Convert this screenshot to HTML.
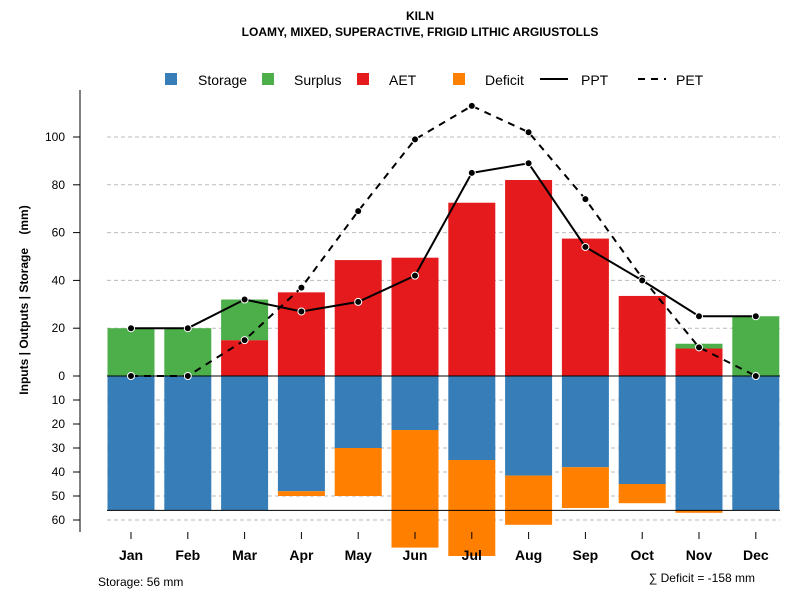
<!DOCTYPE html>
<html><head><meta charset="utf-8"><style>
body{margin:0;background:#fff;font-family:"Liberation Sans",sans-serif}
svg text{font-family:"Liberation Sans",sans-serif}
</style></head><body>
<svg id="c" width="800" height="600">
<text x="420" y="20" text-anchor="middle" font-size="12" font-weight="bold">KILN</text>
<text x="420" y="36" text-anchor="middle" font-size="12" font-weight="bold">LOAMY, MIXED, SUPERACTIVE, FRIGID LITHIC ARGIUSTOLLS</text>
<g id="grid"></g><g id="bars"></g><g id="lines"></g><g id="axes"></g>
<g font-size="14">
<rect x="165" y="73" width="12" height="12" fill="#377eb8"/><text x="198" y="85">Storage</text>
<rect x="262" y="73" width="12" height="12" fill="#4daf4a"/><text x="294" y="85">Surplus</text>
<rect x="357" y="73" width="12" height="12" fill="#e41a1c"/><text x="389" y="85">AET</text>
<rect x="453" y="73" width="12" height="12" fill="#ff7f00"/><text x="485" y="85">Deficit</text>
<line x1="540" y1="79" x2="568" y2="79" stroke="#000" stroke-width="2"/><text x="581" y="85">PPT</text>
<line x1="638" y1="79" x2="666" y2="79" stroke="#000" stroke-width="2" stroke-dasharray="7,6"/><text x="676" y="85">PET</text>
</g>
<text transform="translate(28,300) rotate(-90)" text-anchor="middle" font-size="12" font-weight="bold" style="white-space:pre">Inputs | Outputs | Storage    (mm)</text>
<text x="98" y="586" font-size="12">Storage: 56 mm</text>
<text x="755" y="582" text-anchor="end" font-size="12">∑ Deficit = -158 mm</text>
</svg>
<script>
const months=["Jan","Feb","Mar","Apr","May","Jun","Jul","Aug","Sep","Oct","Nov","Dec"];
const ppt=[20,20,32,27,31,42,85,89,54,40,25,25];
const pet=[0,0,15,37,69,99,113,102,74,41,12,0];
const aet=[0,0,15,35,48.5,49.5,72.5,82,57.5,33.5,11.5,0];
const surplus=[20,20,17,0,0,0,0,0,0,0,2,25];
const storage=[56,56,56,48,30,22.5,35,41.5,38,45,56,56];
const deficit=[0,0,0,2,20,49,40,20.5,17,8,1,0];
const posTicks=[0,20,40,60,80,100];
const negTicks=[10,20,30,40,50,60];
const awc=56;
const NS="http://www.w3.org/2000/svg";
const X=i=>131+i*56.8;
const Y=v=>376-v*2.39;
const YN=v=>376+v*2.4;
const bw=47;
function mk(p,t,a){const e=document.createElementNS(NS,t);for(const k in a)e.setAttribute(k,a[k]);document.getElementById(p).appendChild(e);return e;}
posTicks.slice(1).forEach(t=>{const l=mk("grid","line",{x1:107,x2:780,y1:Y(t),y2:Y(t),stroke:"#bbb","stroke-dasharray":"4,3"});

});
negTicks.forEach(t=>{const l=mk("grid","line",{x1:107,x2:780,y1:YN(t),y2:YN(t),stroke:"#bbb","stroke-dasharray":"4,3"});

});
months.forEach((m,i)=>{const x=X(i)-bw/2;
let r=mk("bars","rect",{x:x,y:Y(aet[i]),width:bw,height:Y(0)-Y(aet[i]),fill:"#e41a1c"});


r=mk("bars","rect",{x:x,y:Y(aet[i]+surplus[i]),width:bw,height:Y(aet[i])-Y(aet[i]+surplus[i]),fill:"#4daf4a"});


r=mk("bars","rect",{x:x,y:YN(0),width:bw,height:YN(storage[i])-YN(0),fill:"#377eb8"});


r=mk("bars","rect",{x:x,y:YN(storage[i]),width:bw,height:YN(storage[i]+deficit[i])-YN(storage[i]),fill:"#ff7f00"});


const t=mk("axes","text",{x:X(i),y:560,"text-anchor":"middle","font-size":14,"font-weight":"bold"});t.textContent=m;


const tk=mk("axes","line",{x1:X(i),x2:X(i),y1:532,y2:539,stroke:"#000"});


});
let zl=mk("bars","line",{x1:107,x2:780,y1:Y(0),y2:Y(0),stroke:"#000"});


let al=mk("bars","line",{x1:107,x2:780,y1:YN(awc),y2:YN(awc),stroke:"#000"});


function series(arr,dash,name){
const p=mk("lines","polyline",{points:arr.map((v,i)=>X(i)+","+Y(v)).join(" "),fill:"none",stroke:"#000","stroke-width":2,"stroke-dasharray":dash});


arr.forEach((v,i)=>{const c=mk("lines","circle",{cx:X(i),cy:Y(v),r:3.5,fill:"#000",stroke:"#fff","stroke-width":1});

});}
series(pet,"7,6","pet");series(ppt,"none","ppt");
const ya=mk("axes","line",{x1:80,x2:80,y1:90,y2:532,stroke:"#000"});


posTicks.forEach(t=>{const l=mk("axes","line",{x1:73,x2:80,y1:Y(t),y2:Y(t),stroke:"#000"});


const tx=mk("axes","text",{x:65,y:Y(t)+4,"text-anchor":"end","font-size":12});tx.textContent=t;

});
negTicks.forEach(t=>{const l=mk("axes","line",{x1:73,x2:80,y1:YN(t),y2:YN(t),stroke:"#000"});


const tx=mk("axes","text",{x:65,y:YN(t)+4,"text-anchor":"end","font-size":12});tx.textContent=t;

});
</script>
</body></html>
